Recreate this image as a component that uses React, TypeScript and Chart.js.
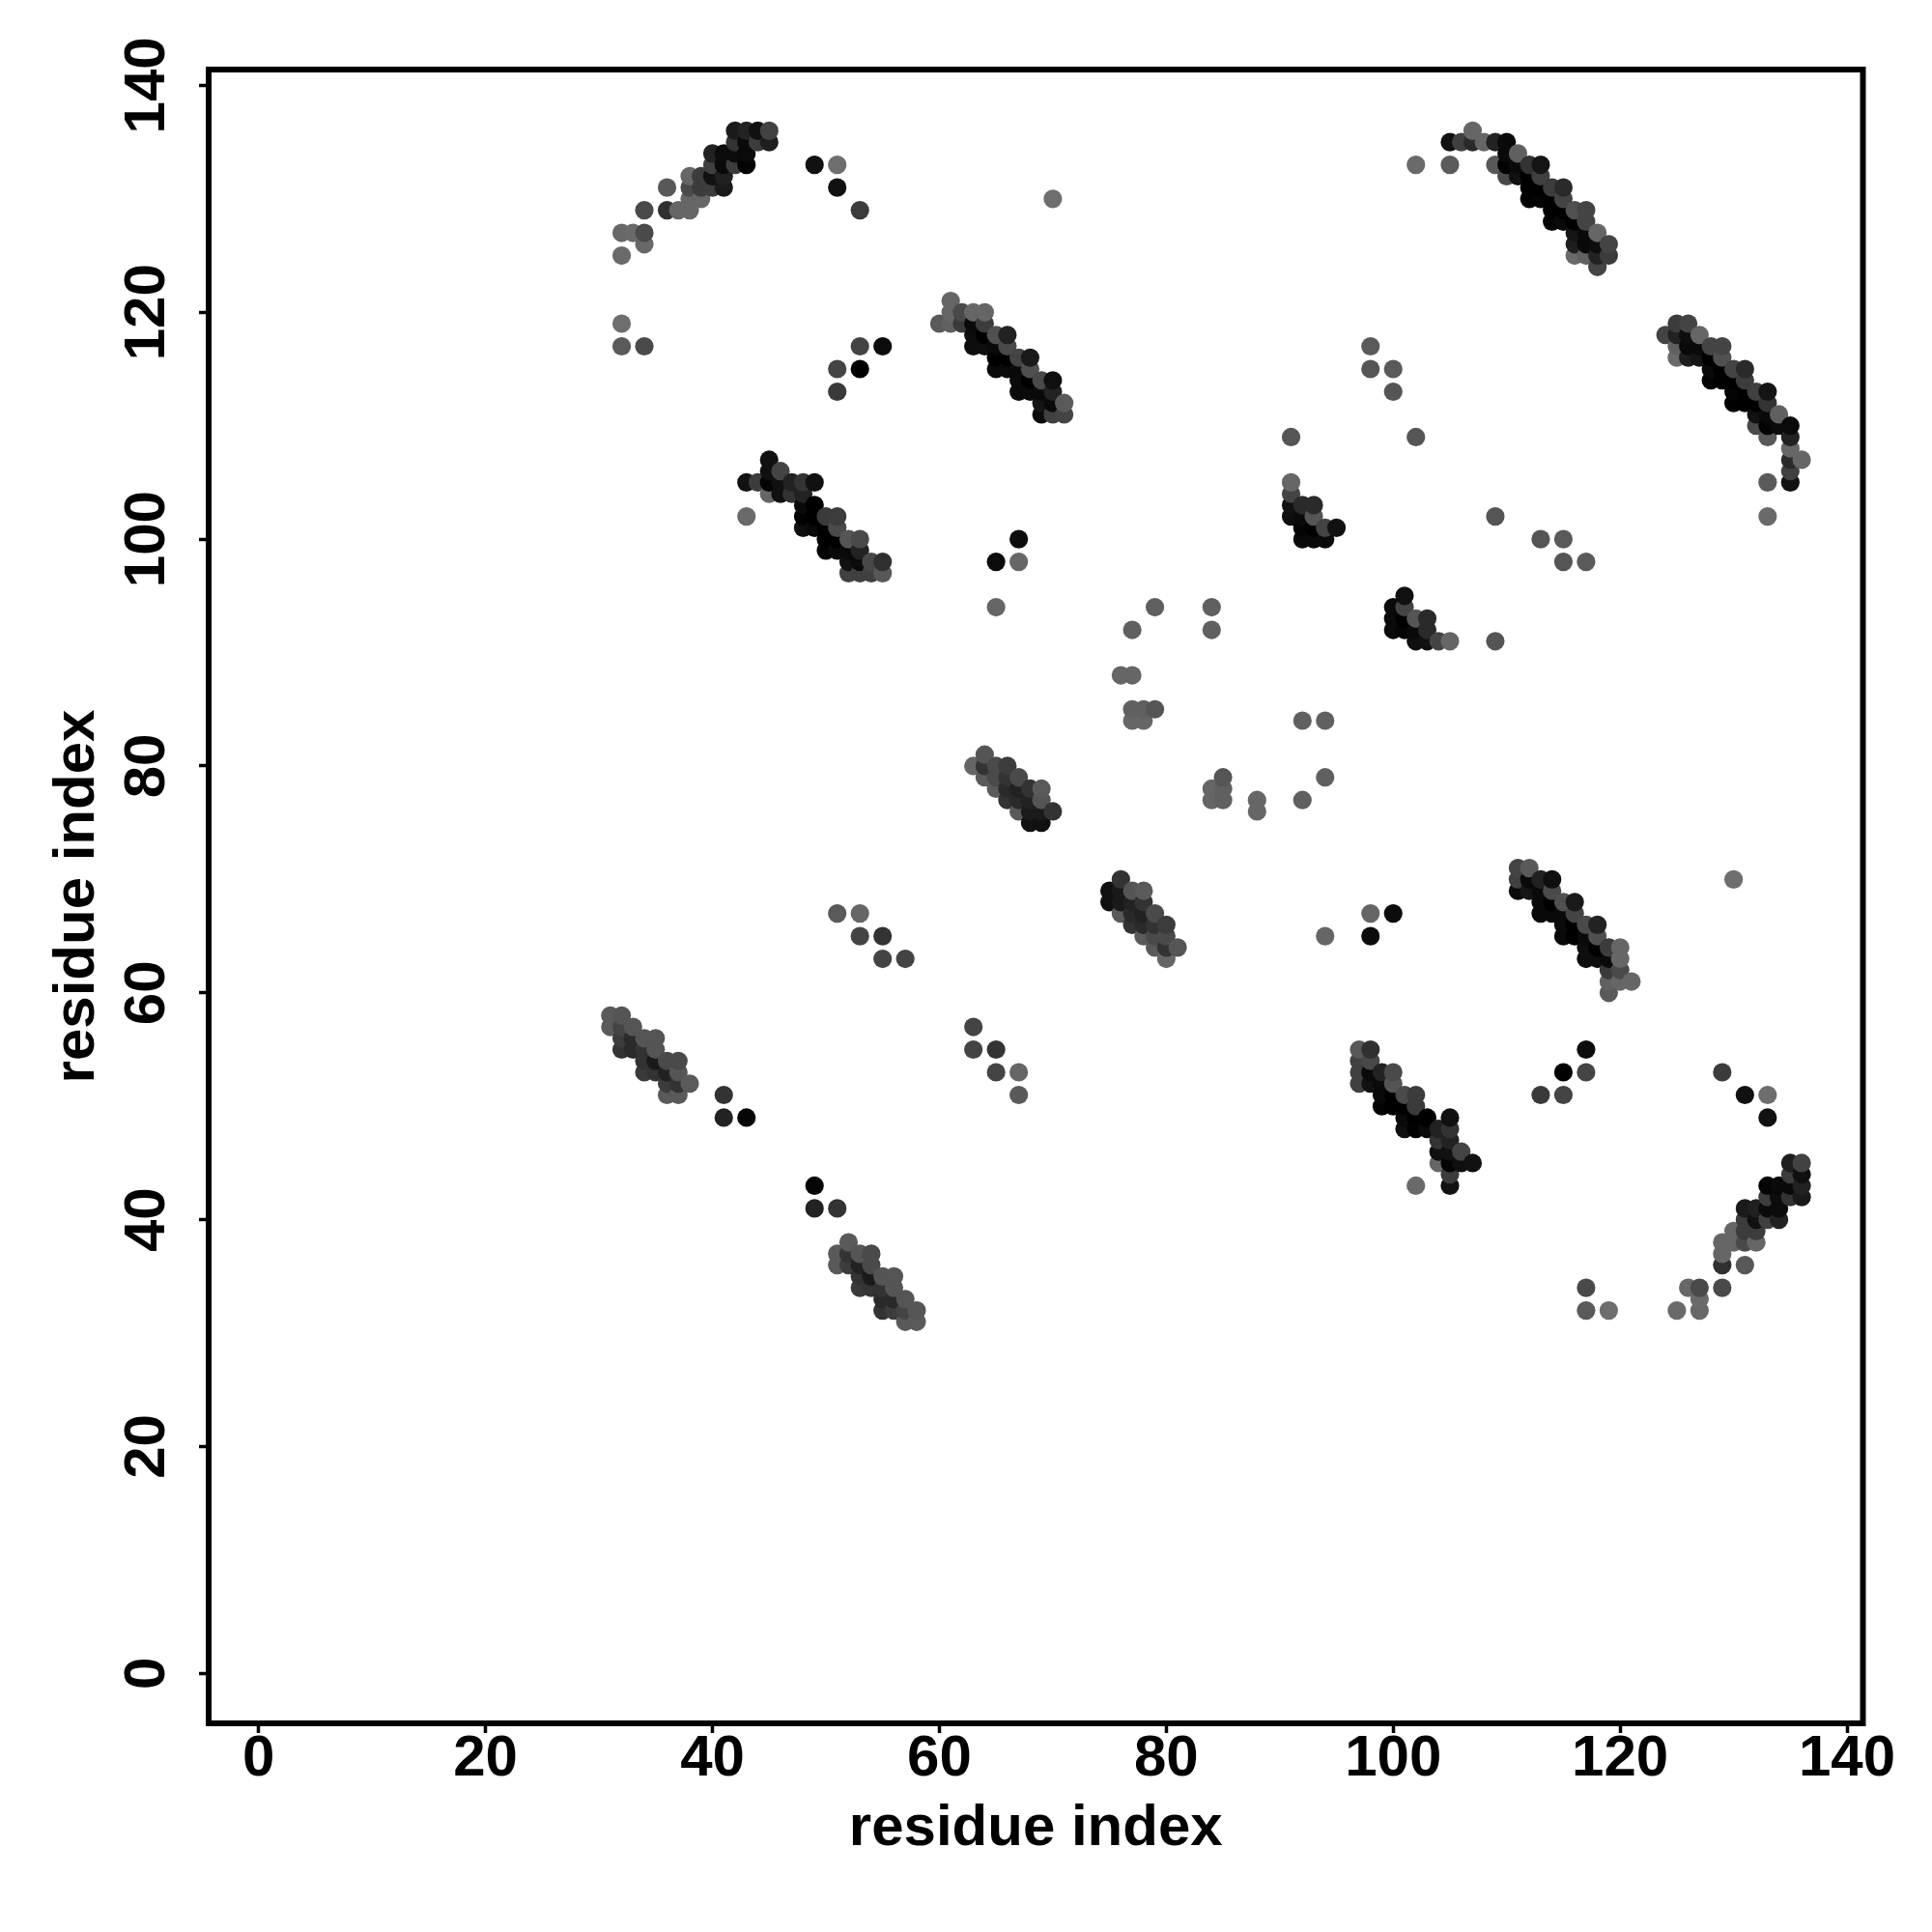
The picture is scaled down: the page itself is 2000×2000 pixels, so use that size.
import React, { useEffect, useRef } from "react";
import { Chart, registerables } from "chart.js";

Chart.register(...registerables);

// Upper triangle of the contact map as [i, j, grey level]; the map is symmetric.
const strandPairA = [
  [32,125,0x6a],[32,127,0x68],[33,127,0x6a],[34,126,0x68],[34,127,0x4a],[34,129,0x4a],[36,129,0x30],[36,131,0x58],
  [37,129,0x66],[38,129,0x66],[38,130,0x66],[38,131,0x4a],[38,132,0x66],[39,130,0x66],[39,131,0x3c],[39,132,0x3c],
  [40,131,0x3c],[40,132,0x11],[40,133,0x40],[40,134,0x22],[41,131,0x1a],[41,132,0x20],[41,133,0x0a],[41,134,0x0c],
  [42,133,0x3c],[42,134,0x0c],[42,135,0x33],[42,136,0x1a],[43,133,0x04],[43,134,0x0a],[43,135,0x0a],[43,136,0x22],
  [44,135,0x3c],[44,136,0x10],[45,135,0x1e],[45,136,0x42],
];
const strandPairB = [
  [102,133,0x6a],[105,133,0x5a],[105,135,0x11],[106,135,0x40],[107,135,0x2a],[107,136,0x66],[108,135,0x66],[109,133,0x58],
  [109,135,0x22],[110,132,0x4a],[110,133,0x03],[110,134,0x0a],[110,135,0x0a],[111,132,0x11],[111,133,0x0a],[111,134,0x60],
  [112,130,0x00],[112,131,0x00],[112,132,0x00],[112,133,0x33],[113,130,0x04],[113,131,0x00],[113,132,0x40],[113,133,0x15],
  [114,128,0x05],[114,129,0x00],[114,130,0x00],[114,131,0x3c],[115,128,0x0a],[115,129,0x00],[115,130,0x44],[115,131,0x2a],
  [116,125,0x6a],[116,126,0x1e],[116,127,0x15],[116,128,0x00],[116,129,0x50],[117,125,0x60],[117,126,0x0a],[117,127,0x0a],
  [117,128,0x44],[117,129,0x44],[118,124,0x44],[118,125,0x22],[118,126,0x0d],[118,127,0x66],[119,125,0x3c],[119,126,0x44],
];
const strandPairC = [
  [60,119,0x5a],[61,119,0x60],[61,120,0x66],[61,121,0x66],[62,119,0x3a],[62,120,0x4a],[63,117,0x0d],[63,118,0x0d],
  [63,119,0x0a],[63,120,0x66],[64,117,0x0f],[64,118,0x00],[64,119,0x3c],[64,120,0x66],[65,115,0x0a],[65,116,0x00],
  [65,117,0x0a],[65,118,0x50],[66,115,0x0a],[66,116,0x00],[66,117,0x4a],[66,118,0x22],[67,113,0x0a],[67,114,0x0a],
  [67,115,0x0a],[67,116,0x44],[68,113,0x0a],[68,114,0x00],[68,115,0x50],[68,116,0x1a],[69,111,0x0a],[69,112,0x15],
  [69,113,0x0a],[69,114,0x4a],[70,111,0x40],[70,112,0x0a],[70,113,0x22],[70,114,0x0f],[71,111,0x44],[71,112,0x5a],
];
const strandPairE = [
  [43,102,0x6a],[43,105,0x11],[44,105,0x3c],[45,104,0x66],[45,105,0x04],[45,106,0x10],[45,107,0x11],[46,104,0x11],
  [46,105,0x11],[46,106,0x44],[47,104,0x33],[47,105,0x22],[48,101,0x0f],[48,102,0x02],[48,103,0x0a],[48,104,0x22],
  [48,105,0x33],[49,101,0x0a],[49,102,0x00],[49,103,0x00],[49,105,0x11],[50,99,0x05],[50,100,0x00],[50,101,0x00],
  [50,102,0x3a],[51,99,0x0a],[51,100,0x00],[51,101,0x4a],[51,102,0x3c],[52,97,0x40],[52,98,0x11],[52,99,0x0a],
  [52,100,0x55],[53,97,0x40],[53,98,0x0a],[53,99,0x22],[53,100,0x4a],[54,97,0x40],[54,98,0x48],[55,97,0x58],[55,98,0x30],
];
const strandPairF = [
  [91,102,0x0f],[91,103,0x11],[91,104,0x44],[91,105,0x66],[92,100,0x0a],[92,101,0x05],[92,102,0x0a],[92,103,0x2a],
  [93,100,0x0a],[93,101,0x00],[93,102,0x55],[93,103,0x2a],[94,100,0x0a],[94,101,0x44],[95,101,0x11],
];
const strandPairG = [
  [63,80,0x66],[64,79,0x5a],[64,80,0x33],[64,81,0x55],[65,78,0x5a],[65,79,0x4a],[65,80,0x4a],[66,77,0x33],[66,78,0x2a],
  [66,79,0x33],[66,80,0x3c],[67,76,0x5a],[67,77,0x2a],[67,78,0x22],[67,79,0x4a],[68,75,0x11],[68,76,0x1a],[68,77,0x22],
  [68,78,0x33],[69,75,0x11],[69,76,0x1a],[69,77,0x55],[69,78,0x5a],[70,76,0x33],
];
const strandPairH = [
  [31,57,0x5a],[31,58,0x5a],[32,55,0x33],[32,56,0x3c],[32,57,0x44],[32,58,0x55],[33,55,0x2a],[33,56,0x2a],[33,57,0x55],
  [34,53,0x3a],[34,54,0x33],[34,55,0x33],[34,56,0x55],[35,53,0x33],[35,54,0x1a],[35,55,0x55],[35,56,0x55],[36,51,0x5a],
  [36,52,0x3c],[36,53,0x22],[36,54,0x4a],[37,51,0x5a],[37,52,0x33],[37,53,0x55],[37,54,0x4a],[38,52,0x5a],
];
const sparseContacts = [
  [41,49,0x22],[41,51,0x33],[43,49,0x06],[49,133,0x11],[51,133,0x6e],[51,131,0x11],[53,129,0x3c],[70,130,0x6e],
  [32,119,0x6e],[32,117,0x5a],[34,117,0x4a],[53,117,0x44],[55,117,0x0c],[51,115,0x44],[53,115,0x00],[51,113,0x3a],
  [51,67,0x5a],[53,67,0x66],[53,65,0x44],[55,65,0x33],[55,63,0x44],[57,63,0x44],[65,94,0x66],[65,98,0x0c],[67,98,0x66],
  [67,100,0x0c],[76,88,0x66],[77,88,0x66],[77,84,0x66],[77,85,0x60],[78,84,0x66],[78,85,0x60],[79,85,0x55],[77,92,0x60],
  [79,94,0x60],[84,92,0x60],[84,94,0x60],[91,109,0x55],[102,109,0x55],[98,115,0x55],[98,117,0x5a],[100,115,0x5a],[100,113,0x55],
];

const axisTicks = [0, 20, 40, 60, 80, 100, 120, 140];
const axisLimits = [-4.4, 141.4];
const axisTitle = "residue index";

const upperContacts = [
  ...strandPairA, ...strandPairB, ...strandPairC, ...strandPairE,
  ...strandPairF, ...strandPairG, ...strandPairH, ...sparseContacts,
];
const contacts = upperContacts
  .flatMap(([i, j, g]) => [{ x: i, y: j, g }, { x: j, y: i, g }])
  .sort((a, b) => a.x - b.x || a.y - b.y);

const frame = {
  id: "frame",
  afterDatasetsDraw(chart: any) {
    const { ctx, chartArea: a } = chart;
    ctx.save();
    ctx.strokeStyle = "#000";
    ctx.lineWidth = 6;
    ctx.strokeRect(a.left, a.top, a.right - a.left, a.bottom - a.top);
    ctx.restore();
  },
};

const font = { family: "'Liberation Sans', Arial, sans-serif", size: 60, weight: "bold" as const };

function axis(fit: (s: any) => void, extraTicks: object, titlePadding: object) {
  return {
    type: "linear" as const,
    min: axisLimits[0],
    max: axisLimits[1],
    afterBuildTicks: (s: any) => { s.ticks = axisTicks.map((value) => ({ value })); },
    afterFit: fit,
    grid: { drawOnChartArea: false, drawTicks: true, tickLength: 10, tickWidth: 3.5, tickColor: "#000", color: "#000" },
    border: { display: false },
    ticks: { font, color: "#000", autoSkip: false, callback: (v: any) => String(v), ...extraTicks },
    title: { display: true, text: axisTitle, font, color: "#000", padding: titlePadding },
  };
}

export default function App() {
  const ref = useRef<HTMLCanvasElement>(null);
  useEffect(() => {
    const chart = new Chart(ref.current!, {
      type: "scatter",
      data: {
        datasets: [{
          data: contacts.map(({ x, y }) => ({ x, y })),
          pointBackgroundColor: contacts.map(({ g }) => `rgb(${g},${g},${g})`),
          pointRadius: 9.6,
          pointBorderWidth: 0,
          showLine: false,
        }],
      },
      options: {
        animation: false,
        responsive: false,
        devicePixelRatio: 1,
        layout: { padding: { top: 72, right: 71.5, left: 0, bottom: 0 } },
        plugins: { legend: { display: false }, tooltip: { enabled: false } },
        scales: {
          x: axis((s) => { s.height = 216; }, { padding: -9, maxRotation: 0, minRotation: 0 }, { top: 0, bottom: 71 }),
          y: axis((s) => { s.width = 216; }, { padding: 2, maxRotation: 90, minRotation: 90, crossAlign: "center" }, { top: 44, bottom: 0 }),
        },
      },
      plugins: [frame],
    } as any);
    return () => chart.destroy();
  }, []);
  return (
    <canvas
      ref={ref}
      width={2000}
      height={2000}
      style={{ position: "absolute", left: 0, top: 0, width: 2000, height: 2000, display: "block", background: "#fff" }}
    />
  );
}
